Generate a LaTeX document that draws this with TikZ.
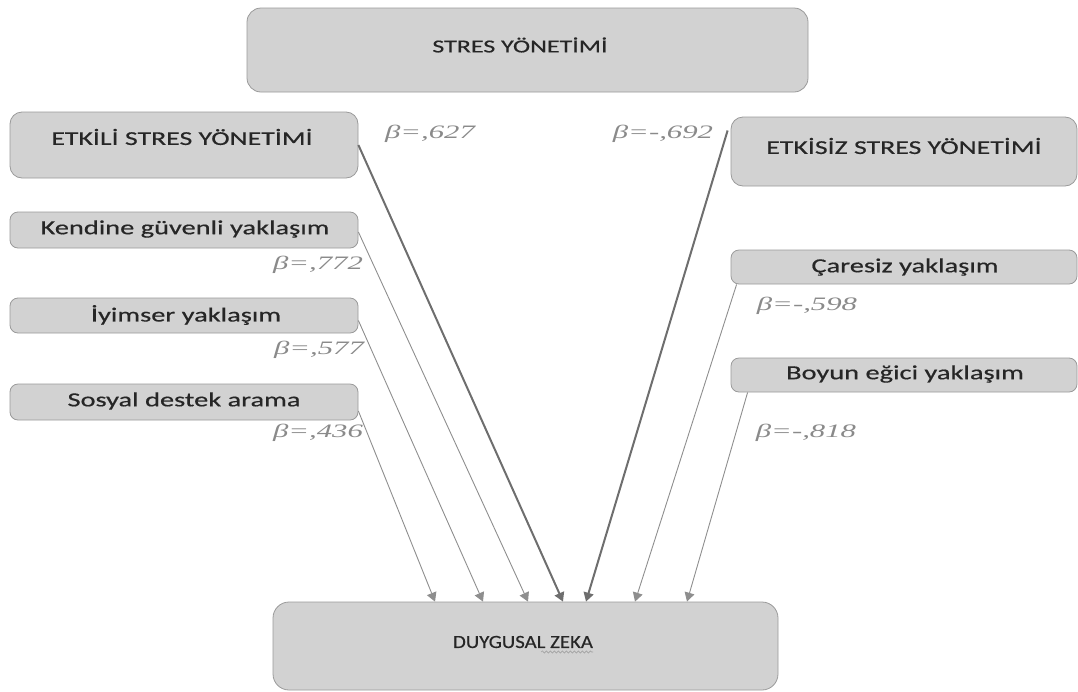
\documentclass[tikz,border=0pt]{standalone}
\usepackage{fontspec}
\setmainfont{Carlito}[FakeStretch=1.42, FakeBold=0.5]
\newfontfamily\narrowfont{Carlito}[FakeStretch=1.12, FakeBold=0.5]
\newfontfamily\betafont{Liberation Serif}[FakeStretch=1.62]
\usetikzlibrary{arrows.meta,decorations.pathmorphing}
\definecolor{boxfill}{HTML}{D2D2D2}
\definecolor{boxline}{HTML}{9A9A9A}
\definecolor{thinarrow}{HTML}{8E8E8E}
\definecolor{thickarrow}{HTML}{6E6E6E}
\definecolor{betagray}{HTML}{8A8A8A}
\tikzset{
  box/.style={draw=boxline, fill=boxfill, line width=0.8pt, rounded corners=#1, inner sep=0pt},
  box/.default=8pt,
  boxtext/.style={font=\fontsize{#1}{20}\selectfont, text=black!85, inner sep=0pt},
  boxtext/.default=20,
  beta/.style={font=\betafont\itshape\fontsize{19}{20}\selectfont, text=betagray, inner sep=0pt},
  thinlink/.style={draw=thinarrow, line width=0.9pt, -{Triangle[width=10pt,length=9pt]}},
  thicklink/.style={draw=thickarrow, line width=2pt, -{Triangle[width=10pt,length=9pt]}}
}
\begin{document}
\begin{tikzpicture}[x=1pt,y=-1pt]
\useasboundingbox (0,0) rectangle (1078,691);

% boxes
\node[box=14pt, minimum width=561pt, minimum height=84pt] (stres) at (527.5,50) {};
\node[box=12pt, minimum width=348pt, minimum height=66pt] (etkili) at (184,145) {};
\node[box=12pt, minimum width=346pt, minimum height=69pt] (etkisiz) at (904,151.5) {};
\node[box, minimum width=348pt, minimum height=36pt] (kendine) at (184,230) {};
\node[box, minimum width=348pt, minimum height=35pt] (iyimser) at (184,315.5) {};
\node[box, minimum width=348pt, minimum height=36pt] (sosyal) at (184,402) {};
\node[box, minimum width=346pt, minimum height=34pt] (caresiz) at (904,267) {};
\node[box, minimum width=346pt, minimum height=34pt] (boyun) at (904,375) {};
\node[box=16pt, minimum width=505pt, minimum height=88pt] (zeka) at (525.5,646) {};

% box texts
\node[boxtext=18.3] (tstres) at (520,45) {STRES YÖNETİMİ};
\node[boxtext=19.6] (tetkili) at (182,137) {ETKİLİ STRES YÖNETİMİ};
\node[boxtext=19.6] (tetkisiz) at (904,146) {ETKİSİZ STRES YÖNETİMİ};
\node[boxtext] (tkendine) at (185,229) {Kendine güvenli yaklaşım};
\node[boxtext] (tiyimser) at (186,315) {İyimser yaklaşım};
\node[boxtext] (tsosyal) at (184,401) {Sosyal destek arama};
\node[boxtext] (tcaresiz) at (905,267) {Çaresiz yaklaşım};
\node[boxtext] (tboyun) at (905,374) {Boyun eğici yaklaşım};
\node[boxtext, font={\narrowfont\fontsize{18.6}{20}\selectfont}] (tzeka) at (523,642) {DUYGUSAL ZEKA};
\draw[betagray!80, line width=0.6pt, decorate, decoration={snake, amplitude=1.1pt, segment length=4pt}]
  ([xshift=-52pt,yshift=-10pt]tzeka.east) -- ([yshift=-10pt]tzeka.east);

% connectors into the outcome box
\draw[thicklink] (etkili.east) -- ([xshift=37.5pt]zeka.north);
\draw[thinlink] ([yshift=-2pt]kendine.east) -- ([xshift=2.5pt]zeka.north);
\draw[thinlink] ([yshift=-5pt]iyimser.east) -- ([xshift=-42.5pt]zeka.north);
\draw[thinlink] ([yshift=-9pt]sosyal.east) -- ([xshift=-90.5pt]zeka.north);
\draw[thicklink] ([xshift=-3pt,yshift=21pt]etkisiz.west) -- ([xshift=60.5pt]zeka.north);
\draw[thinlink] ([xshift=6pt]caresiz.south west) -- ([xshift=109.5pt]zeka.north);
\draw[thinlink] ([xshift=17pt]boyun.south west) -- ([xshift=161.5pt]zeka.north);

% path coefficients
\node[beta] (b1) at (430,134) {β=,627};
\node[beta] (b2) at (663,134) {β=-,692};
\node[beta] (b3) at (318,265) {β=,772};
\node[beta] (b4) at (319,350) {β=,577};
\node[beta] (b5) at (318,433) {β=,436};
\node[beta] (b6) at (807,306) {β=-,598};
\node[beta] (b7) at (806,433) {β=-,818};
\end{tikzpicture}
\end{document}
